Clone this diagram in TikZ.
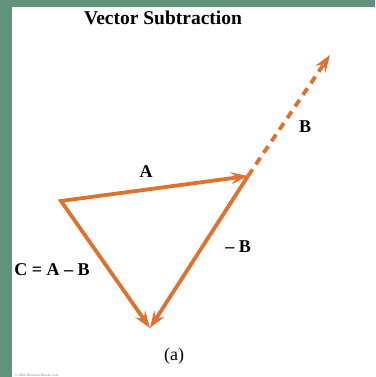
\documentclass[tikz,border=0pt]{standalone}
\usepackage{fontspec}
\setmainfont{Liberation Serif}
\usetikzlibrary{arrows.meta}
\definecolor{bg}{RGB}{96,146,124}
\definecolor{vec}{RGB}{222,114,46}
\begin{document}
\begin{tikzpicture}[x=1pt,y=-1pt,
  vecline/.style={draw=vec, line width=3.8pt, line join=miter},
  tip/.style={-{Stealth[length=17pt,width=12pt,inset=6pt]}},
  lbl/.style={inner sep=0pt, font=\fontsize{18}{18}\selectfont\bfseries}]
\fill[bg] (0,0) rectangle (375,377);
\fill[white] (12,7) rectangle (375,377);
\useasboundingbox (0,0) rectangle (375,377);
\coordinate (P) at (61,201);
\coordinate (Q) at (248,176);
\coordinate (R) at (150,328);
\coordinate (T) at (330,55);
\draw[vecline, {Stealth[length=17pt,width=12pt,inset=6pt]}-{Stealth[length=17pt,width=12pt,inset=6pt]}] (Q) -- (P) -- (R);
\draw[vecline, tip] (Q) -- (R);
\draw[vecline, tip, dash pattern=on 8pt off 6pt, line cap=butt] (Q) -- (T);
\node[inner sep=0pt, font=\fontsize{19.5}{19.5}\selectfont\bfseries] (title) at (163,18) {Vector Subtraction};
\node[lbl] (lA) at (146,172) {A};
\node[lbl] (lB) at (305,127) {B};
\node[lbl] (lmB) at (238,247) {– B};
\node[lbl] (lC) at (52,270) {C = A – B};
\node[inner sep=0pt, font=\fontsize{18}{18}\selectfont] (cap) at (174,356) {(a)};
\node[inner sep=0pt, anchor=west, text=gray, font=\fontsize{3.5}{3.5}\selectfont] (copy) at (15,375) {© 2004 Thomson/Brooks Cole};
\end{tikzpicture}
\end{document}
